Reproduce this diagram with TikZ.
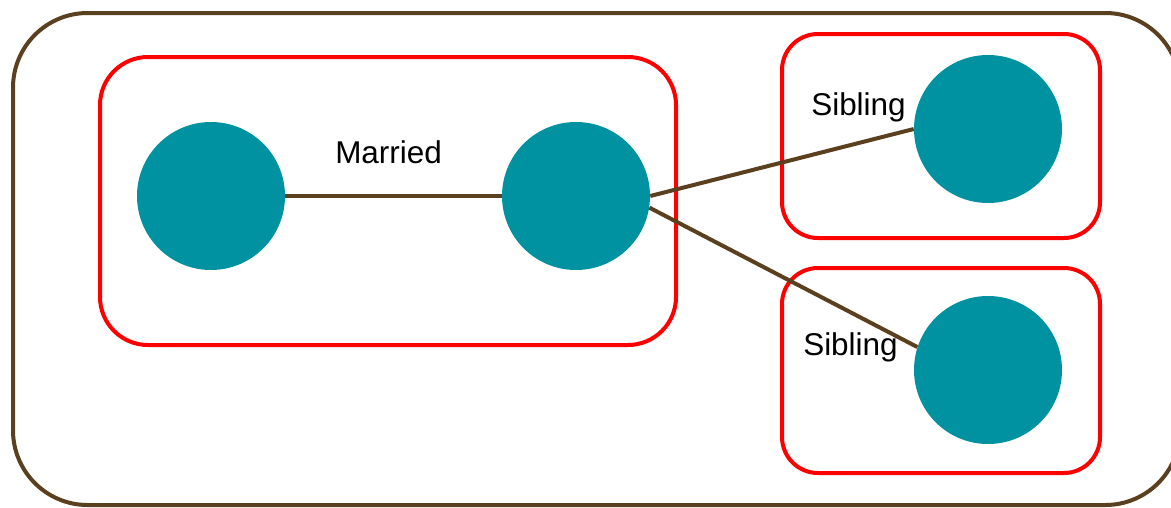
\documentclass[tikz,border=0pt]{standalone}
\usepackage{fontspec}
\setmainfont{Liberation Sans}
\definecolor{teal1}{RGB}{0,146,160}
\definecolor{brn}{RGB}{90,64,30}
\begin{document}
\begin{tikzpicture}[x=0.75pt,y=-0.75pt,
  person/.style={circle,fill=teal1,draw=none,minimum size=148*0.75pt,inner sep=0pt},
  grp/.style={draw=red,line width=3pt,rounded corners=#1},
  tie/.style={draw=brn,line width=3pt},
  lbl/.style={font=\fontsize{23.6pt}{28pt}\selectfont,inner sep=0pt,anchor=base west}]
\useasboundingbox (0,0) rectangle (1171,507);
\draw[draw=brn,line width=3pt,rounded corners=56pt] (13,13) rectangle (1180,505);
\draw[grp=36pt] (100,57) rectangle (676,345);
\draw[grp=27pt] (782,34) rectangle (1100,238);
\draw[grp=27pt] (782,268) rectangle (1100,473);
\node[person] (a) at (211,196) {};
\node[person] (b) at (576,196) {};
\node[person] (c) at (988,129) {};
\node[person] (d) at (988,370) {};
\draw[tie] (a.east) -- (b.west);
\draw[tie] (b.east) -- (c.west);
\draw[tie] (b.-9) -- (d.162);
\node[lbl] (m) at (335,163) {Married};
\node[lbl] (s1) at (811,115) {Sibling};
\node[lbl] (s2) at (803,355) {Sibling};
\end{tikzpicture}
\end{document}
